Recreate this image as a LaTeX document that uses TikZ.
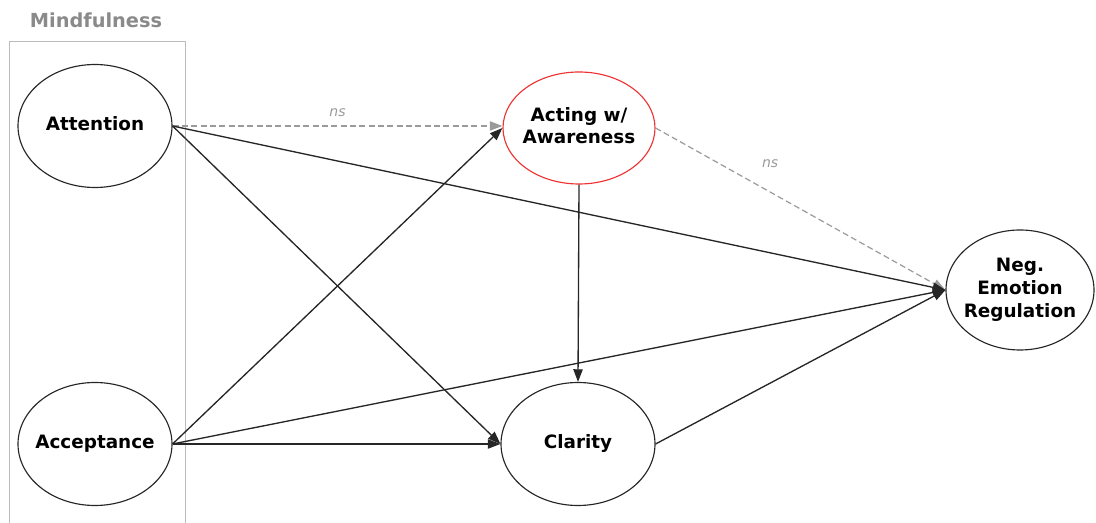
\documentclass[tikz,border=0pt]{standalone}
\usepackage{fontspec}
\setmainfont{DejaVu Sans}
\usetikzlibrary{shapes.geometric,arrows.meta}
\definecolor{boxgray}{HTML}{BBBBBB}
\definecolor{titlegray}{HTML}{8A8A8A}
\definecolor{dashgray}{HTML}{9A9A9A}
\definecolor{redline}{HTML}{EE3333}
\newcommand{\lbl}[1]{\raisebox{-2pt}{\makebox[0pt]{\begin{tabular}{@{}c@{}}#1\end{tabular}}}}
\begin{document}
\begin{tikzpicture}[x=0.75pt,y=-0.75pt,
  latent/.style={ellipse,draw=black!85,line width=0.85pt,inner sep=0pt,
    font=\fontsize{13.8}{17}\selectfont\bfseries,fill=white},
  path/.style={draw=black!85,line width=1pt,-{Triangle[length=9.5pt,width=7pt]}},
  nspath/.style={draw=dashgray,line width=0.9pt,dash pattern=on 4.5pt off 2.5pt,-{Triangle[length=9.5pt,width=7pt]}},
  nslabel/.style={text=dashgray,font=\fontsize{10.5}{11}\selectfont\itshape}]
\useasboundingbox (0,0) rectangle (1096,523);
\draw[boxgray,line width=0.75pt] (9,530) -- (9,42) -- (185,42) -- (185,530);
\node[text=titlegray,font=\fontsize{14.5}{15}\selectfont\bfseries] (title) at (96,20) {Mindfulness};
\node[latent,minimum width=115.5pt,minimum height=92.25pt] (att) at (95,126) {\lbl{Attention}};
\node[latent,minimum width=115.5pt,minimum height=92.25pt] (acc) at (95,444) {\lbl{Acceptance}};
\node[latent,draw=redline,minimum width=114pt,minimum height=84pt] (act) at (579,128) {\lbl{Acting w/\\Awareness}};
\node[latent,minimum width=115.5pt,minimum height=92.25pt] (cla) at (578,444) {\lbl{Clarity}};
\node[latent,minimum width=111pt,minimum height=90pt] (neg) at (1020,290) {\lbl{Neg.\\Emotion\\Regulation}};
\draw[nspath] (att.east) -- node[nslabel,above=3pt] (ns1) {ns} (act.west |- att.east);
\draw[nspath] (act.east) -- node[nslabel,pos=0.4,xshift=-1pt,yshift=22pt] (ns2) {ns} (neg.west);
\draw[path] (att.east) -- (neg.west);
\draw[path] (att.east) -- (cla.west);
\draw[path] (acc.east) -- (act.west);
\draw[path] (acc.east) -- (neg.west);
\draw[path] (acc.east) -- (cla.west);
\draw[path] (act.south) -- (cla.north);
\draw[path] (cla.east) -- (neg.west);
\end{tikzpicture}
\end{document}
